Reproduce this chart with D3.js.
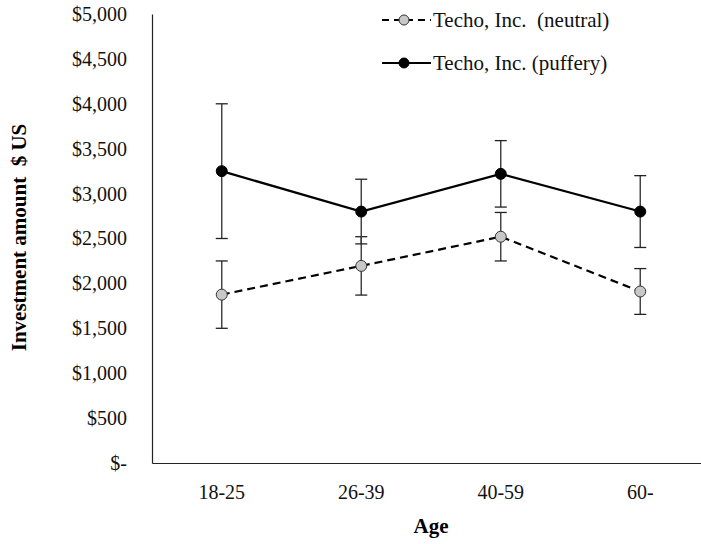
<!DOCTYPE html>
<html>
<head>
<meta charset="utf-8">
<script src="https://cdn.jsdelivr.net/npm/d3@7"></script>
</head>
<body style="margin:0; background:#fff">
<svg id="chart" width="701" height="544" font-family="Liberation Serif"></svg>
<script>
// data
let ages = ["18-25", "26-39", "40-59", "60-"];
let neutralMean = [1875, 2195, 2520, 1910];
let neutralErr = [375, 325, 270, 255];
let pufferyMean = [3250, 2800, 3220, 2800];
let pufferyErr = [750, 360, 370, 400];
let yTicks = [0, 500, 1000, 1500, 2000, 2500, 3000, 3500, 4000, 4500, 5000];

let serif = "Liberation Serif";
let margin = {top: 14, right: -9, bottom: 81, left: 152},
    width = 701 - margin.left - margin.right,
    height = 544 - margin.top - margin.bottom;

let svg = d3.select("#chart")
  .append("g")
    .attr("transform", "translate(" + margin.left + "," + margin.top + ")");

let x = d3.scaleBand().domain(ages).range([0, width]);
let y = d3.scaleLinear().domain([0, 5000]).range([height, 0]);
let cx = function(d) { return x(d) + x.bandwidth() / 2; };

// y axis
let fmt = d3.format(",");
svg.append("g")
    .call(d3.axisLeft(y).tickValues(yTicks).tickSize(0).tickPadding(25)
            .tickFormat(function(d) { return d === 0 ? "$-" : "$" + fmt(d); }))
    .attr("font-family", serif)
    .attr("font-size", 20)
    .call(function(g) { g.select(".domain").attr("stroke", "#222").attr("stroke-width", 1.2); })
    .selectAll("text").attr("fill", "#111");

// x axis
svg.append("g")
    .attr("transform", "translate(0," + height + ")")
    .call(d3.axisBottom(x).tickSize(0).tickPadding(22))
    .attr("font-family", serif)
    .attr("font-size", 20)
    .call(function(g) { g.select(".domain").attr("stroke", "#222").attr("stroke-width", 1.2); })
    .selectAll("text").attr("fill", "#111");

// axis titles
svg.append("text")
    .attr("transform", "rotate(-90)")
    .attr("x", -(height / 2 - 1))
    .attr("y", -126)
    .attr("text-anchor", "middle")
    .attr("font-family", serif)
    .attr("font-size", 21)
    .attr("font-weight", "bold")
    .attr("xml:space", "preserve")
    .text("Investment amount  $ US");

svg.append("text")
    .attr("x", width / 2)
    .attr("y", height + 70)
    .attr("text-anchor", "middle")
    .attr("font-family", serif)
    .attr("font-size", 21)
    .attr("font-weight", "bold")
    .text("Age");

function drawSeries(means, errs, opts) {
  let pts = ages.map(function(a, i) { return {a: a, m: means[i], e: errs[i]}; });

  // error bars
  let eb = svg.append("g");
  pts.forEach(function(p) {
    let px = cx(p.a);
    eb.append("line")
        .attr("x1", px).attr("x2", px)
        .attr("y1", y(p.m + p.e)).attr("y2", y(p.m - p.e))
        .attr("stroke", "#3a3a3a").attr("stroke-width", 1.4);
    [p.m + p.e, p.m - p.e].forEach(function(v) {
      eb.append("line")
          .attr("x1", px - 6).attr("x2", px + 6)
          .attr("y1", y(v)).attr("y2", y(v))
          .attr("stroke", "#222").attr("stroke-width", 1.3);
    });
  });

  let line = d3.line()
      .x(function(p) { return cx(p.a); })
      .y(function(p) { return y(p.m); });

  svg.append("path")
      .datum(pts)
      .attr("fill", "none")
      .attr("stroke", "#000")
      .attr("stroke-width", 2.2)
      .attr("stroke-dasharray", opts.dash)
      .attr("d", line);

  svg.selectAll(null)
      .data(pts)
    .enter().append("circle")
      .attr("cx", function(p) { return cx(p.a); })
      .attr("cy", function(p) { return y(p.m); })
      .attr("r", 5.5)
      .attr("fill", opts.fill)
      .attr("stroke", opts.stroke)
      .attr("stroke-width", 1);
}

drawSeries(neutralMean, neutralErr, {dash: "8,5", fill: "#c8c8c8", stroke: "#333"});
drawSeries(pufferyMean, pufferyErr, {dash: null, fill: "#000", stroke: "#000"});

// legend
let legend = [
  {label: "Techo, Inc.  (neutral)", dash: "7,5", fill: "#c8c8c8", stroke: "#333", y: 20},
  {label: "Techo, Inc. (puffery)", dash: null, fill: "#000", stroke: "#000", y: 63}
];
let lg = d3.select("#chart").append("g");
legend.forEach(function(l) {
  lg.append("line")
      .attr("x1", 382).attr("x2", 431)
      .attr("y1", l.y).attr("y2", l.y)
      .attr("stroke", "#000").attr("stroke-width", 2.2)
      .attr("stroke-dasharray", l.dash);
  lg.append("circle")
      .attr("cx", 404).attr("cy", l.y).attr("r", 5)
      .attr("fill", l.fill).attr("stroke", l.stroke);
  lg.append("text")
      .attr("x", 433).attr("y", l.y + 6.5)
      .attr("font-family", serif)
      .attr("font-size", 21)
      .attr("fill", "#111")
      .attr("xml:space", "preserve")
      .text(l.label);
});
</script>
</body>
</html>
